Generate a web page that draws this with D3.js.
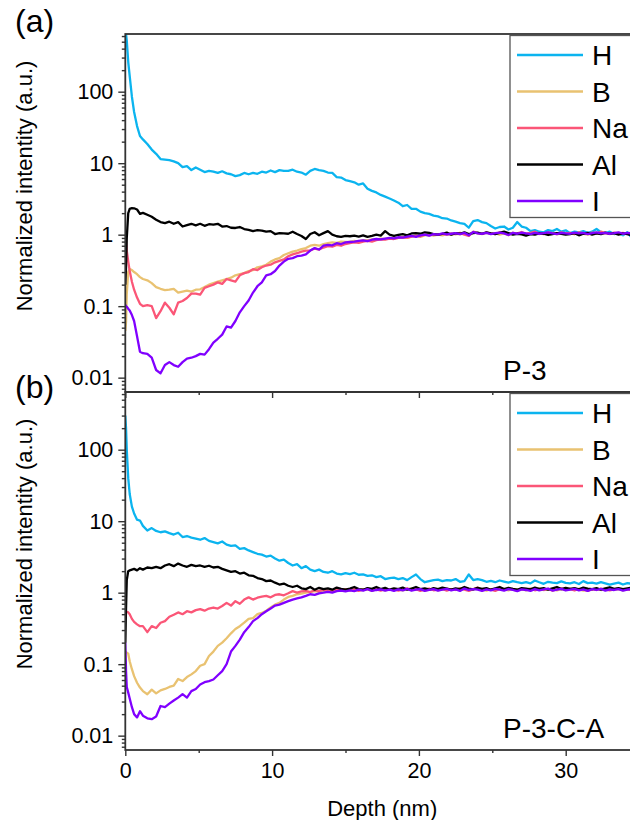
<!DOCTYPE html>
<html>
<head>
<meta charset="utf-8">
<script src="https://cdn.jsdelivr.net/npm/d3@7"></script>
<style>
  body { margin: 0; background: #fff; }
  svg { display: block; font-family: "Liberation Sans", Arial, Helvetica, sans-serif; }
</style>
</head>
<body>
<svg id="chart" width="630" height="820"></svg>
<script>
// Depth grid shared by every profile (nm)
const depth = [
  0, 0.05, 0.1, 0.2, 0.3, 0.45, 0.6, 0.8, 1.0,
  1.2, 1.5, 1.8, 2.1, 2.4, 2.7, 3.0,
  3.3, 3.6, 3.9, 4.2, 4.5, 4.8, 5.1, 5.4, 5.7, 6.0,
  6.3, 6.6, 6.9, 7.2, 7.5, 7.8, 8.1, 8.4, 8.7, 9.0,
  9.3, 9.6, 9.9, 10.2, 10.5, 10.8, 11.1, 11.4, 11.7, 12.0,
  12.3, 12.6, 12.9, 13.2, 13.5, 13.8, 14.1, 14.4, 14.7, 15.0,
  15.3, 15.6, 15.9, 16.2, 16.5, 16.8, 17.1, 17.4, 17.7, 18.0,
  18.3, 18.6, 18.9, 19.2, 19.5, 19.8, 20.1, 20.4, 20.7, 21.0,
  21.3, 21.6, 21.9, 22.2, 22.5, 22.8, 23.1, 23.4, 23.7, 24.0,
  24.3, 24.6, 24.9, 25.2, 25.5, 25.8, 26.1, 26.4, 26.7, 27.0,
  27.3, 27.6, 27.9, 28.2, 28.5, 28.8, 29.1, 29.4, 29.7, 30.0,
  30.3, 30.6, 30.9, 31.2, 31.5, 31.8, 32.1, 32.4, 32.7, 33.0,
  33.3, 33.6, 33.9, 34.2, 34.5, 34.8, 35.1
];

const elements = ["H", "B", "Na", "Al", "I"];
const colors = ["#0bb4ef", "#e9c271", "#fb5677", "#000000", "#8000ff"];

// ---- Sample P-3 ----
const hP3 = [
  700, 640, 520, 260, 165, 85, 52, 33, 24,
  21.5, 18.5, 15.5, 13.5, 11.4, 11.2, 11.0,
  10.6, 10.0, 8.8, 9.1, 8.0, 8.7, 8.1, 7.5, 7.8, 7.6,
  7.3, 7.7, 7.2, 7.0, 6.6, 6.8, 7.3, 7.0, 7.3, 7.1,
  7.6, 7.4, 7.9, 7.5, 8.0, 7.8, 7.8, 8.1, 7.6, 7.4,
  6.9, 7.8, 8.3, 8.0, 7.8, 7.4, 7.3, 6.4, 6.3, 5.8,
  5.6, 5.4, 5.0, 5.2, 4.4, 4.1, 3.9, 3.6, 3.4, 3.2,
  3.0, 2.8, 2.5, 2.6, 2.3, 2.3, 2.1, 2.0, 1.95, 1.85,
  1.8, 1.7, 1.68, 1.58, 1.52, 1.45, 1.42, 1.25, 1.55, 1.6,
  1.5, 1.45, 1.32, 1.22, 1.28, 1.3, 1.18, 1.25, 1.5, 1.3,
  1.25, 1.12, 1.16, 1.1, 1.08, 1.16, 1.12, 1.2, 1.1, 1.15,
  1.05, 1.1, 1.08, 1.12, 1.06, 1.1, 1.2, 1.08, 1.05, 1.1,
  1.02, 1.05, 0.98, 1.08, 0.9, 1.0, 1.05
];
const bP3 = [
  0.045, 0.06, 0.15, 0.3, 0.33, 0.32, 0.3, 0.28, 0.255,
  0.24, 0.23, 0.21, 0.185, 0.175, 0.168, 0.17,
  0.175, 0.155, 0.16, 0.165, 0.16, 0.17, 0.172, 0.185, 0.2, 0.21,
  0.22, 0.23, 0.24, 0.25, 0.27, 0.28, 0.29, 0.31, 0.32, 0.35,
  0.36, 0.38, 0.42, 0.45, 0.47, 0.52, 0.55, 0.58, 0.6, 0.63,
  0.65, 0.7, 0.72, 0.7, 0.74, 0.76, 0.78, 0.77, 0.8, 0.79,
  0.8, 0.82, 0.8, 0.84, 0.83, 0.86, 0.85, 0.88, 0.87, 0.89,
  0.88, 0.9, 0.92, 0.9, 0.94, 0.96, 0.93, 0.98, 1.0, 0.97,
  1.0, 0.98, 1.02, 1.0, 1.03, 1.01, 1.05, 0.97, 1.08, 1.04,
  1.02, 1.06, 1.03, 1.05, 1.0, 1.04, 0.98, 1.06, 1.03, 1.05,
  1.02, 1.04, 1.07, 1.02, 1.05, 1.03, 1.06, 1.01, 1.04, 1.02,
  1.05, 1.02, 1.06, 1.03, 1.0, 1.04, 1.07, 1.03, 1.05, 1.02,
  1.04, 1.06, 1.02, 1.05, 1.0, 1.06, 1.03
];
const naP3 = [
  1.1, 0.8, 0.6, 0.42, 0.31, 0.22, 0.17, 0.132, 0.108,
  0.1, 0.103, 0.1, 0.068, 0.085, 0.112, 0.095,
  0.077, 0.112, 0.118, 0.13, 0.15, 0.15, 0.145, 0.18, 0.19, 0.2,
  0.215, 0.205, 0.24, 0.23, 0.22, 0.27, 0.29, 0.3, 0.33, 0.32,
  0.35, 0.37, 0.38, 0.41, 0.43, 0.45, 0.5, 0.53, 0.55, 0.58,
  0.6, 0.6, 0.64, 0.62, 0.66, 0.69, 0.68, 0.72, 0.7, 0.74,
  0.76, 0.78, 0.77, 0.8, 0.82, 0.8, 0.84, 0.86, 0.85, 0.88,
  0.87, 0.9, 0.92, 0.91, 0.94, 0.97, 0.95, 1.0, 0.98, 1.02,
  0.99, 1.03, 1.0, 1.04, 1.02, 1.06, 1.0, 0.96, 1.1, 1.05,
  1.03, 1.07, 1.04, 1.02, 1.08, 1.05, 1.0, 1.06, 1.04, 1.09,
  1.03, 1.06, 1.1, 1.04, 1.02, 1.07, 1.05, 1.03, 1.08, 1.04,
  1.06, 1.02, 1.08, 1.05, 1.03, 1.07, 1.04, 1.1, 1.05, 1.03,
  1.07, 1.04, 1.06, 1.02, 1.08, 1.05, 1.1
];
const alP3 = [
  0.2, 0.35, 0.9, 2.0, 2.3, 2.35, 2.34, 2.25, 1.95,
  2.02, 1.9, 1.78, 1.62, 1.5, 1.45, 1.52,
  1.42, 1.5, 1.3, 1.36, 1.42, 1.35, 1.42, 1.33, 1.4, 1.38,
  1.42, 1.3, 1.32, 1.25, 1.24, 1.28, 1.2, 1.17, 1.12, 1.16,
  1.14, 1.1, 1.12, 1.02, 1.05, 1.04, 1.03, 1.1, 1.02, 0.96,
  0.87, 1.02, 1.08, 0.98, 1.05, 1.12, 1.0, 0.95, 0.93, 0.96,
  0.95, 0.97, 0.94, 0.98, 0.93, 0.96, 1.0, 0.97, 1.12, 1.0,
  0.96, 0.99, 1.02, 0.98, 1.04, 1.05, 1.03, 1.08, 1.06, 1.02,
  1.0, 1.03, 1.07, 1.0, 1.05, 1.03, 1.08, 1.02, 1.05, 1.07,
  1.03, 1.08, 1.04, 1.02, 1.06, 1.1, 1.05, 1.0, 1.03, 1.01,
  0.97, 1.02, 1.0, 1.04, 1.03, 0.99, 1.02, 1.05, 1.03, 1.0,
  1.02, 1.05, 0.98, 1.03, 1.06, 1.0, 1.04, 1.02, 1.07, 1.03,
  1.05, 1.0, 1.04, 1.02, 0.98, 1.05, 1.03
];
const iP3 = [
  0.105, 0.1, 0.098, 0.092, 0.087, 0.075, 0.062, 0.038, 0.023,
  0.022, 0.0215, 0.019, 0.0128, 0.0115, 0.015, 0.0165,
  0.015, 0.0142, 0.0165, 0.0185, 0.019, 0.02, 0.0215, 0.021, 0.025, 0.031,
  0.035, 0.04, 0.052, 0.05, 0.062, 0.082, 0.1, 0.12, 0.155, 0.19,
  0.215, 0.27, 0.28, 0.31, 0.37, 0.42, 0.46, 0.47, 0.5, 0.51,
  0.53, 0.6, 0.65, 0.62, 0.7, 0.72, 0.71, 0.76, 0.74, 0.78,
  0.79, 0.8, 0.82, 0.83, 0.81, 0.85, 0.87, 0.86, 0.88, 0.9,
  0.89, 0.92, 0.91, 0.94, 0.96, 0.93, 0.98, 1.0, 0.97, 1.02,
  1.0, 1.04, 1.01, 1.03, 1.05, 1.02, 1.06, 0.98, 1.09, 1.04,
  1.03, 1.06, 1.02, 1.05, 1.07, 1.04, 0.99, 1.06, 1.03, 1.07,
  1.04, 1.02, 1.06, 1.03, 1.05, 1.08, 1.04, 1.02, 1.06, 1.04,
  1.03, 1.07, 1.04, 1.06, 1.02, 1.05, 1.08, 1.04, 1.06, 1.03,
  1.05, 1.08, 1.03, 1.06, 1.04, 1.02, 1.07
];

// ---- Sample P-3-C-A ----
const hP3CA = [
  300, 200, 100, 40, 24, 16, 12.8, 10.5, 10.2,
  8.6, 7.4, 8.0, 7.3, 7.0, 7.2, 6.8,
  6.5, 6.9, 6.0, 6.2, 5.9, 5.7, 5.5, 5.8, 5.3, 5.1,
  4.9, 5.2, 4.7, 4.5, 4.6, 4.1, 4.2, 3.9, 3.7, 3.5,
  3.4, 3.2, 3.3, 3.0, 2.8, 2.9, 2.6, 2.4, 2.5, 2.2,
  2.35, 2.1, 2.0, 2.1, 1.95, 1.9, 2.0, 1.85, 1.8, 1.88,
  1.82, 1.9, 1.78, 1.8, 1.72, 1.75, 1.65, 1.7, 1.55, 1.6,
  1.62, 1.55, 1.6, 1.5, 1.65, 1.8, 1.55, 1.4, 1.45, 1.5,
  1.52, 1.45, 1.5, 1.48, 1.55, 1.42, 1.45, 1.8, 1.5, 1.55,
  1.5, 1.42, 1.46, 1.4, 1.48, 1.43, 1.38, 1.45, 1.4, 1.36,
  1.4, 1.35, 1.48, 1.4, 1.33, 1.42, 1.38, 1.36, 1.44, 1.37,
  1.35, 1.4, 1.32, 1.45, 1.36, 1.38, 1.34, 1.4, 1.35, 1.3,
  1.34, 1.38, 1.3, 1.36, 1.33, 1.28, 1.32
];
const bP3CA = [
  0.15, 0.148, 0.145, 0.14, 0.11, 0.085, 0.068, 0.055, 0.047,
  0.042, 0.038, 0.044, 0.039, 0.043, 0.045, 0.048,
  0.05, 0.062, 0.058, 0.066, 0.072, 0.08, 0.095, 0.1, 0.13, 0.15,
  0.18, 0.2, 0.23, 0.27, 0.31, 0.34, 0.38, 0.43, 0.44, 0.5,
  0.52, 0.56, 0.62, 0.68, 0.72, 0.8, 0.87, 0.9, 0.95, 0.97,
  1.0, 1.02, 1.05, 1.03, 1.07, 1.05, 1.09, 1.06, 1.1, 1.08,
  1.1, 1.07, 1.12, 1.09, 1.11, 1.06, 1.13, 1.1, 1.08, 1.12,
  1.09, 1.13, 1.08, 1.11, 1.14, 1.09, 1.12, 1.07, 1.1, 1.13,
  1.08, 1.11, 1.14, 1.09, 1.12, 1.1, 1.15, 1.08, 1.11, 1.14,
  1.1, 1.07, 1.12, 1.09, 1.14, 1.11, 1.08, 1.13, 1.1, 1.12,
  1.08, 1.12, 1.1, 1.14, 1.09, 1.11, 1.13, 1.08, 1.12, 1.1,
  1.14, 1.09, 1.11, 1.07, 1.12, 1.1, 1.13, 1.09, 1.11, 1.14,
  1.1, 1.12, 1.08, 1.11, 1.13, 1.09, 1.12
];
const naP3CA = [
  0.56, 0.55, 0.54, 0.53, 0.5, 0.43, 0.39, 0.36, 0.34,
  0.34, 0.28, 0.34, 0.32, 0.38, 0.4, 0.46,
  0.49, 0.53, 0.5, 0.55, 0.53, 0.57, 0.59, 0.56, 0.6, 0.62,
  0.6, 0.65, 0.72, 0.66, 0.76, 0.7, 0.8, 0.86, 0.8, 0.85,
  0.88, 0.9, 0.86, 0.93, 0.95, 0.92, 0.98, 1.05, 1.0, 1.04,
  1.06, 1.02, 1.08, 1.05, 1.1, 1.07, 1.04, 1.1, 1.08, 1.12,
  1.08, 1.12, 1.06, 1.1, 1.14, 1.08, 1.11, 1.07, 1.13, 1.09,
  1.12, 1.07, 1.1, 1.15, 1.09, 1.12, 1.06, 1.11, 1.14, 1.08,
  1.1, 1.13, 1.07, 1.12, 1.09, 1.15, 1.1, 1.06, 1.12, 1.18,
  1.08, 1.12, 1.1, 1.06, 1.13, 1.09, 1.15, 1.1, 1.07, 1.12,
  1.1, 1.14, 1.08, 1.12, 1.09, 1.13, 1.07, 1.11, 1.15, 1.09,
  1.12, 1.08, 1.13, 1.1, 1.06, 1.12, 1.09, 1.14, 1.1, 1.08,
  1.11, 1.14, 1.09, 1.12, 1.08, 1.13, 1.1
];
const alP3CA = [
  0.2, 0.6, 1.5, 2.0, 2.05, 2.1, 2.15, 2.05, 2.2,
  2.1, 2.25, 2.2, 2.3, 2.2, 2.4, 2.5,
  2.35, 2.55, 2.4, 2.3, 2.45, 2.35, 2.4, 2.3, 2.38, 2.25,
  2.3, 2.15, 2.05, 1.95, 2.0, 1.85, 1.9, 1.75, 1.72, 1.6,
  1.55, 1.45, 1.48, 1.38, 1.3, 1.34, 1.25, 1.2, 1.25, 1.15,
  1.12, 1.2, 1.1, 1.17, 1.12, 1.15, 1.1, 1.18, 1.13, 1.1,
  1.14, 1.2, 1.12, 1.1, 1.16, 1.13, 1.2, 1.12, 1.17, 1.1,
  1.15, 1.12, 1.18, 1.1, 1.14, 1.2, 1.12, 1.15, 1.1, 1.16,
  1.12, 1.18, 1.14, 1.1, 1.15, 1.12, 1.2, 1.14, 1.11, 1.17,
  1.13, 1.16, 1.1, 1.15, 1.2, 1.12, 1.17, 1.13, 1.1, 1.16,
  1.14, 1.11, 1.18, 1.13, 1.16, 1.1, 1.15, 1.2, 1.12, 1.17,
  1.13, 1.16, 1.11, 1.18, 1.14, 1.12, 1.16, 1.1, 1.15, 1.19,
  1.13, 1.16, 1.12, 1.15, 1.18, 1.13, 1.16
];
const iP3CA = [
  0.2, 0.08, 0.048, 0.04, 0.033, 0.025, 0.02, 0.018, 0.022,
  0.019, 0.0175, 0.017, 0.0185, 0.026, 0.025, 0.028,
  0.031, 0.034, 0.038, 0.034, 0.042, 0.045, 0.052, 0.056, 0.058, 0.061,
  0.07, 0.08, 0.1, 0.15, 0.18, 0.22, 0.28, 0.33, 0.4, 0.44,
  0.5, 0.55, 0.6, 0.66, 0.68, 0.72, 0.76, 0.8, 0.83, 0.86,
  0.9, 0.95, 0.93, 0.98, 1.0, 1.03, 1.0, 1.05, 1.07, 1.04,
  1.08, 1.05, 1.1, 1.07, 1.12, 1.06, 1.09, 1.11, 1.07, 1.1,
  1.06, 1.11, 1.08, 1.13, 1.07, 1.1, 1.12, 1.06, 1.09, 1.12,
  1.07, 1.1, 1.13, 1.08, 1.11, 1.06, 1.14, 1.09, 1.12, 1.1,
  1.06, 1.11, 1.08, 1.13, 1.1, 1.07, 1.12, 1.09, 1.05, 1.11,
  1.09, 1.06, 1.12, 1.08, 1.11, 1.14, 1.07, 1.1, 1.13, 1.08,
  1.1, 1.13, 1.08, 1.11, 1.06, 1.12, 1.09, 1.13, 1.07, 1.11,
  1.09, 1.12, 1.07, 1.1, 1.13, 1.08, 1.11
];

const panels = [
  { tag: "(a)", sample: "P-3",     series: [hP3, bP3, naP3, alP3, iP3] },
  { tag: "(b)", sample: "P-3-C-A", series: [hP3CA, bP3CA, naP3CA, alP3CA, iP3CA] }
];

const xDomain = [0, 35];
const yDomain = [0.0063, 641];
const xMajorTicks = [0, 10, 20, 30];
const xMinorTicks = [5, 15, 25, 35];
const yMajorTicks = [0.01, 0.1, 1, 10, 100];
const yAxisTitle = "Normalized intentity (a.u.)";
const xAxisTitle = "Depth (nm)";

// ---- layout ----
const svg = d3.select("#chart");
const left = 125.3, right = 639.1;
const panelTop = [34, 392];
const panelH = 358;
const axisColor = "#333";

const x = d3.scaleLinear().domain(xDomain).range([left, right]);

panels.forEach((p, pi) => {
  const top = panelTop[pi];
  const bottom = top + panelH;
  const y = d3.scaleLog().domain(yDomain).range([bottom, top]);
  const g = svg.append("g");

  const clipId = "clip" + pi;
  g.append("clipPath").attr("id", clipId)
    .append("rect").attr("x", left).attr("y", top)
    .attr("width", right - left).attr("height", panelH);

  // profiles
  const line = d3.line()
    .defined(d => d[1] != null)
    .x(d => x(d[0]))
    .y(d => y(d[1]));
  const lines = g.append("g").attr("clip-path", `url(#${clipId})`);
  p.series.forEach((vals, si) => {
    const pts = depth.map((d, k) => [d, vals[k]]).filter(d => d[1] != null);
    lines.append("path")
      .datum(pts)
      .attr("fill", "none")
      .attr("stroke", colors[si])
      .attr("stroke-width", 2.3)
      .attr("stroke-linejoin", "round")
      .attr("d", line);
  });

  // y axis: minor then major ticks
  const minor = y.ticks().filter(v => !yMajorTicks.some(m => Math.abs(m - v) / m < 1e-6));
  const yMinor = g.append("g").attr("transform", `translate(${left},0)`)
    .call(d3.axisLeft(y).tickValues(minor).tickSize(3.5).tickSizeOuter(0).tickFormat(""));
  const yMajor = g.append("g").attr("transform", `translate(${left},0)`)
    .call(d3.axisLeft(y).tickValues(yMajorTicks).tickSize(7).tickSizeOuter(0).tickPadding(5)
      .tickFormat(d => String(d)));
  [yMinor, yMajor].forEach(a => {
    a.select(".domain").remove();
    a.selectAll(".tick line").attr("stroke", axisColor).attr("stroke-width", 1.4);
  });
  yMajor.selectAll(".tick text").attr("fill", "#000").style("font-size", "21.5px")
    .style("font-family", "'Liberation Sans', Arial, sans-serif");

  // x axis (labels only on the lower panel)
  const xMinorAx = g.append("g").attr("transform", `translate(0,${bottom})`)
    .call(d3.axisBottom(x).tickValues(xMinorTicks).tickSize(3).tickSizeOuter(0).tickFormat(""));
  const xMajorAx = g.append("g").attr("transform", `translate(0,${bottom})`)
    .call(d3.axisBottom(x).tickValues(xMajorTicks).tickSize(6).tickSizeOuter(0).tickPadding(7)
      .tickFormat(pi === 1 ? (d => String(d)) : ""));
  [xMinorAx, xMajorAx].forEach(a => {
    a.select(".domain").remove();
    a.selectAll(".tick line").attr("stroke", axisColor).attr("stroke-width", 1.4);
  });
  xMajorAx.selectAll(".tick text").attr("fill", "#000").style("font-size", "21.5px")
    .style("font-family", "'Liberation Sans', Arial, sans-serif");

  // frame
  g.append("rect")
    .attr("x", left).attr("y", top)
    .attr("width", right - left).attr("height", panelH)
    .attr("fill", "none").attr("stroke", axisColor).attr("stroke-width", 1.8);

  // legend
  const lg = g.append("g");
  const lgTop = top + 1.5;
  lg.append("rect")
    .attr("x", 510).attr("y", lgTop)
    .attr("width", 160).attr("height", 182)
    .attr("fill", "#fff").attr("stroke", "#555").attr("stroke-width", 1.3);
  elements.forEach((name, si) => {
    const ly = top + 21 + si * 36.5;
    lg.append("line")
      .attr("x1", 517).attr("x2", 583).attr("y1", ly).attr("y2", ly)
      .attr("stroke", colors[si]).attr("stroke-width", 2.3);
    lg.append("text")
      .attr("x", 592).attr("y", ly + 10)
      .style("font-size", "28px").attr("fill", "#000")
      .text(name);
  });

  // sample name
  g.append("text")
    .attr("x", 503).attr("y", bottom - 12)
    .style("font-size", "28px").attr("fill", "#000")
    .text(p.sample);

  // y-axis title
  const ty = top + panelH / 2 - 27;
  g.append("text")
    .attr("transform", `translate(32,${ty}) rotate(-90)`)
    .attr("text-anchor", "middle")
    .style("font-size", "22px").attr("fill", "#000")
    .text(yAxisTitle);
});

// panel tags drawn last so they sit above frames
panels.forEach((p, pi) => {
  svg.append("text")
    .attr("x", 15).attr("y", pi === 0 ? 32 : 398)
    .style("font-size", "32px").attr("fill", "#000")
    .text(p.tag);
});

svg.append("text")
  .attr("x", (left + right) / 2).attr("y", 816)
  .attr("text-anchor", "middle")
  .style("font-size", "22px").attr("fill", "#000")
  .text(xAxisTitle);
</script>
</body>
</html>
